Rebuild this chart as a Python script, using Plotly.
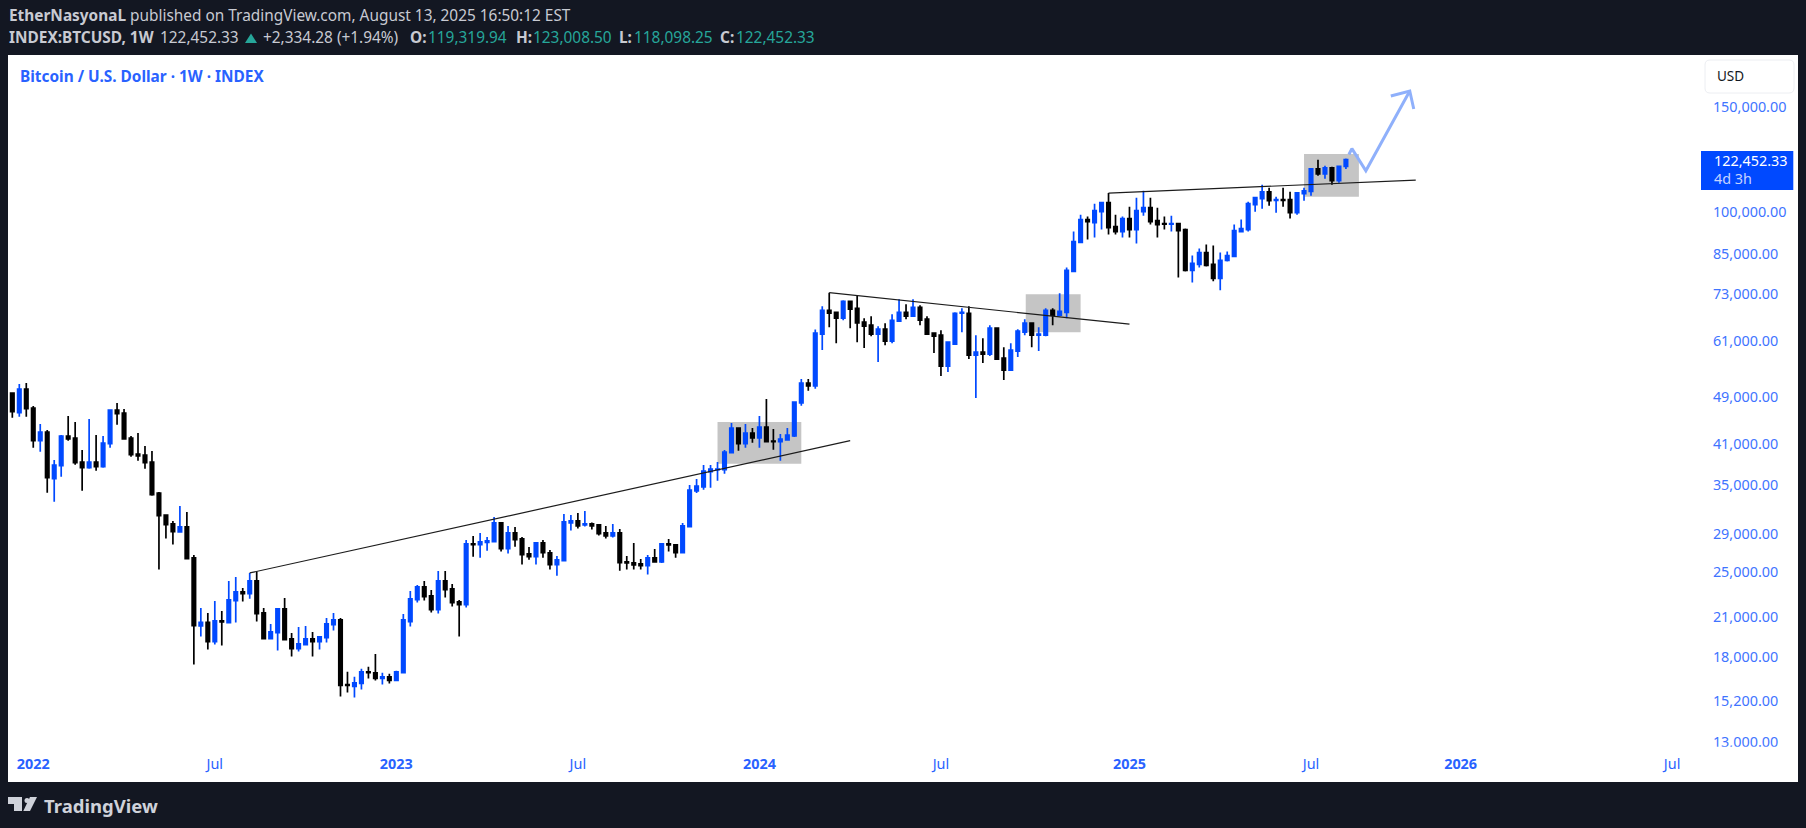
import pandas as pd
import plotly.graph_objects as go

W, H = 1806, 828
FONT = "Noto Sans"
BG = "#131722"
BLUE = "#2962ff"
TICK = "#3f74ff"
UP = "#0049ff"

first_bar = "2021-12-13"

opens = [49825,46190,50600,47030,41465,42875,35817,37660,42217,41894,
38183,37373,38183,37512,40988,46666,46130,41894,39390,39235,
38183,33895,31140,30082,29171,29737,26390,20310,20597,19120,
20705,20572,22390,23150,23000,24150,21350,19343,19795,21680,
19318,18612,18900,19318,19120,19418,20414,20784,16205,16080,
16267,17015,16948,16583,16690,16456,16970,20650,22475,23600,
22795,21627,24150,23418,22275,22047,27850,27780,28030,28103,
30200,27355,29058,28397,26797,26523,27960,26900,25720,26118,
30200,30432,29967,30082,29967,29058,28725,29058,25985,25885,
25785,25620,26390,25985,27850,27745,26935,29775,34155,34686,
36795,37080,37080,39590,43540,40988,42707,41894,43707,41412,
41305,41572,42217,47941,51783,51190,62500,68529,68000,66460,
70935,69060,65445,64695,62500,63705,60845,65700,68000,66970,
69325,66205,62740,62260,55275,60145,67745,67745,57660,58325,
57880,63955,57000,54433,58550,62980,65195,62260,62260,68529,
67230,68000,79595,88970,97175,96070,100205,103730,94600,92800,
97550,93520,100205,101760,96806,95700,95450,95700,93520,79902,
81760,85615,81760,77485,83028,84310,92800,93520,102935,105335,
108200,104660,104930,104930,99815,107375,108340,118190,115940,118640,
112869,119319.94]

highs = [49825,51585,51783,47390,44215,43205,38488,42380,45598,44556,
40000,45073,42380,42217,46666,47941,46845,42217,42707,40620,
39845,34020,31140,30432,32238,31500,26695,21766,21350,22360,
21515,24150,24525,23510,24907,25035,21766,20467,21680,22620,
19770,20231,20310,19846,19540,20945,21350,20945,17015,16690,
17212,17345,18234,16948,16884,17080,21270,23240,23780,24150,
23328,25100,25100,23874,22447,28285,28725,29058,28615,30904,
30316,29851,29737,28615,27530,28067,28285,27213,26590,31260,
31140,31380,31625,30238,29967,29851,30082,29510,26590,27960,
26286,26695,27320,27850,28397,27850,30200,34950,35770,37755,
37755,38183,40000,44385,43540,44215,43540,45598,48685,43370,
42545,43540,48125,52586,52586,63628,69590,73340,68000,71211,
70935,72590,66460,66970,64450,65195,67485,71485,70125,71485,
69860,66970,62980,63466,60845,68000,69060,69590,62260,61545,
64695,64200,59455,60375,63705,66205,65195,64200,69060,69060,
73150,80830,92800,99060,98305,103330,104130,107650,99060,98305,
102150,105740,108619,105740,101760,98305,98680,95700,93880,84635,
86940,88285,87950,85615,85945,95330,97175,104130,105740,111150,
109875,106145,109875,108200,107775,109875,118490,122340,119550,119100,
119400,123008.50]

lows = [45307,45482,45482,40360,39745,33937,32780,36094,41465,37803,
34200,37225,36938,37373,40360,44100,41625,38986,38390,37225,
33550,25228,28433,27780,29096,26320,17500,19492,18541,18900,
18826,20572,20572,22303,22560,20650,19343,19343,18470,19195,
18048,18400,18900,18048,18541,19047,19948,15473,15713,15414,
15895,16583,16456,16205,16267,16456,16970,20257,22218,22390,
21378,21297,22650,21878,19492,21795,26523,26420,27143,27995,
27040,26832,27565,25720,26218,25720,26420,25228,24650,26118,
29320,29547,29775,29433,28760,28433,28540,25130,25228,25228,
25228,24750,25985,25885,27040,26420,26935,29775,33895,34332,
34597,35540,36515,39590,39900,40360,41147,40360,41305,40050,
38390,41572,42055,47450,50275,50660,58776,64200,60375,65949,
63955,60610,59230,62020,56130,59915,60375,65700,66205,66970,
64695,62500,58105,53195,54015,60145,62980,56780,48877,55915,
57440,56780,52384,54225,57218,62260,59455,58550,62020,64695,
66970,66460,79595,88970,90000,90690,93520,91740,91740,90690,
90690,88630,98680,95330,90690,93520,92800,77780,79595,76300,
80830,81135,76600,73998,82710,84310,92445,92800,100205,101370,
102540,99815,102150,97550,99060,104529,106555,115055,113740,111150,
112000,118098.25]

closes = [46368,50600,46906,41465,42875,35955,37755,42217,41732,38085,
37373,38183,37512,41094,46666,46010,41732,39285,39085,38085,
33680,31061,30010,29208,29737,26320,20335,20597,19120,20705,
20625,22447,23150,23000,24150,21297,19343,19846,21680,19268,
18612,18950,19318,19120,19468,20467,20784,16142,16142,16309,
17015,16970,16583,16690,16456,17015,20784,22533,23600,22737,
21627,24150,23358,22218,22047,27850,27780,28067,28176,30200,
27355,29058,28320,26730,26523,27960,26935,25720,26185,30316,
30432,29851,30082,29851,28985,28725,29058,25920,25885,25685,
25620,26390,25985,27850,27745,26935,29851,34287,34820,36890,
37176,37176,39695,43540,40988,42707,41894,43707,41305,41305,
41732,42380,48125,51783,51190,62740,68529,67745,66460,70935,
68795,65280,64450,62500,63705,60845,65949,68000,66970,69325,
65949,62500,62020,55275,60610,67745,68000,57660,58325,57880,
63955,56780,54433,58776,63225,65195,62260,62500,68529,67230,
68255,79902,89310,97175,96435,100593,103730,94240,92800,97550,
93520,100593,101760,96435,95330,95450,95700,93160,79902,82075,
85615,81445,77485,83028,84635,93160,93880,103330,105740,108200,
104529,104930,104660,99815,107775,108619,118190,115940,118640,112869,
119320,122452.33]

trend_a_dates = ["2022-08-08", "2024-04-01"]
trend_a_prices = [24907, 41465]
trend_b_dates = ["2024-03-11", "2025-01-06"]
trend_b_prices = [73340, 64945]
trend_c_dates = ["2024-12-16", "2025-10-20"]
trend_c_prices = [107650, 113160]

box_a_dates = ["2023-11-20", "2024-02-12"]
box_a_prices = [37950, 44556]
box_b_dates = ["2024-09-24", "2024-11-18"]
box_b_prices = [62980, 72870]
box_c_dates = ["2025-06-30", "2025-08-24"]
box_c_prices = [106145, 125190]

path_dates = ["2025-08-14", "2025-08-17", "2025-08-31", "2025-10-14"]
path_prices = [124890, 127750, 117285, 159500]
head_dates = ["2025-09-25", "2025-10-14", "2025-10-18"]
head_prices = [156460, 159500, 148820]

price_ticks = [150000,100000,85000,73000,61000,49000,41000,35000,29000,25000,21000,18000,15200,13000]
date_ticks = ["2022-01-03","2022-07-04","2023-01-02","2023-07-03","2024-01-01","2024-07-01",
              "2025-01-06","2025-07-07","2025-12-04","2026-07-04"]
date_labels = ["<b>2022</b>","Jul","<b>2023</b>","Jul","<b>2024</b>","Jul","<b>2025</b>","Jul","<b>2026</b>","Jul"]

bars = pd.date_range(first_bar, periods=len(opens), freq="7D")

fx = lambda p: p / W
fy = lambda p: 1 - p / H

fig = go.Figure()

fig.add_trace(go.Candlestick(
    x=bars, open=opens, high=highs, low=lows, close=closes, whiskerwidth=0,
    increasing=dict(line=dict(color=UP, width=1.7), fillcolor=UP),
    decreasing=dict(line=dict(color="#000000", width=1.7), fillcolor="#000000"),
    showlegend=False))

for ds, ps in [(trend_a_dates, trend_a_prices), (trend_b_dates, trend_b_prices), (trend_c_dates, trend_c_prices)]:
    fig.add_trace(go.Scatter(x=ds, y=ps, mode="lines", line=dict(color="#1c1c1c", width=1.2),
                             hoverinfo="skip", showlegend=False))

for ds, ps in [(path_dates, path_prices), (head_dates, head_prices)]:
    fig.add_trace(go.Scatter(x=ds, y=ps, mode="lines", line=dict(color="#8fb0fb", width=3),
                             hoverinfo="skip", showlegend=False))


def poly(points):
    return "M " + " L ".join(f"{fx(a):.5f} {fy(b):.5f}" for a, b in points) + " Z"


def rounded(x0, y0, x1, y1, r):
    return ("M {} {} L {} {} Q {} {} {} {} L {} {} Q {} {} {} {} L {} {} Q {} {} {} {} L {} {} Q {} {} {} {} Z").format(
        fx(x0 + r), fy(y0), fx(x1 - r), fy(y0), fx(x1), fy(y0), fx(x1), fy(y0 + r),
        fx(x1), fy(y1 - r), fx(x1), fy(y1), fx(x1 - r), fy(y1),
        fx(x0 + r), fy(y1), fx(x0), fy(y1), fx(x0), fy(y1 - r),
        fx(x0), fy(y0 + r), fx(x0), fy(y0), fx(x0 + r), fy(y0))


LOGO = "#cfd2da"
TEAL = "#26a69a"
pp = dict(xref="paper", yref="paper")
shapes = [
    dict(type="rect", x0=fx(8), x1=fx(1798), y0=fy(55), y1=fy(782),
         fillcolor="#ffffff", line=dict(width=0), layer="below", **pp),
]
for ds, ps in [(box_a_dates, box_a_prices), (box_b_dates, box_b_prices), (box_c_dates, box_c_prices)]:
    shapes.append(dict(type="rect", xref="x", yref="y", x0=ds[0], x1=ds[1], y0=ps[0], y1=ps[1],
                       fillcolor="#c5c5c5", line=dict(width=0), layer="below"))
shapes += [
    dict(type="rect", x0=fx(1700), x1=fx(1792), y0=fy(746.7), y1=fy(753),
         fillcolor="#ffffff", line=dict(width=0), layer="above", **pp),
    dict(type="rect", x0=fx(1701), x1=fx(1793.3), y0=fy(151), y1=fy(190),
         fillcolor=UP, line=dict(width=0), layer="above", **pp),
    dict(type="path", path=rounded(1705, 60, 1794, 93, 5),
         fillcolor="#ffffff", line=dict(width=1, color="#eceef2"), layer="above", **pp),
    dict(type="path", path=poly([(8, 797), (22, 797), (22, 811), (14, 811), (14, 804), (8, 804)]),
         fillcolor=LOGO, line=dict(width=0), layer="above", **pp),
    dict(type="circle", x0=fx(24.5), x1=fx(29.5), y0=fy(798), y1=fy(803),
         fillcolor=LOGO, line=dict(width=0), layer="above", **pp),
    dict(type="path", path=poly([(30, 797), (37, 797), (30, 811), (23.3, 811)]),
         fillcolor=LOGO, line=dict(width=0), layer="above", **pp),
    dict(type="path", path=poly([(245, 43), (257, 43), (251, 33.5)]),
         fillcolor=TEAL, line=dict(width=0), layer="above", **pp),
]


def note(x, y, text, size, color, anchor="left"):
    return dict(xref="paper", yref="paper", x=fx(x), y=fy(y), text=text, showarrow=False,
                xanchor=anchor, yanchor="middle", xshift=0, borderpad=0,
                font=dict(family=FONT, size=size, color=color))


TXT = "#c8cad2"
HS = 15.4
annotations = [
    note(8, 16, "<b>EtherNasyonaL</b> published on TradingView.com, August 13, 2025 16:50:12 EST", HS, TXT),
    note(8, 38, "<b>INDEX:BTCUSD, 1W</b>", HS, TXT),
    note(159, 38, "122,452.33", HS, TXT),
    note(262, 38, "+2,334.28 (+1.94%)", HS, TXT),
    note(409, 38, "<b>O:</b>", HS, TXT),
    note(427, 38, "119,319.94", HS, TEAL),
    note(515, 38, "<b>H:</b>", HS, TXT),
    note(532, 38, "123,008.50", HS, TEAL),
    note(618, 38, "<b>L:</b>", HS, TXT),
    note(633, 38, "118,098.25", HS, TEAL),
    note(719, 38, "<b>C:</b>", HS, TXT),
    note(735, 38, "122,452.33", HS, TEAL),
    note(19, 76.5, "<b>Bitcoin / U.S. Dollar · 1W · INDEX</b>", 15.4, BLUE),
    note(1716, 76.5, "USD", 13.5, "#131722"),
    note(1712.5, 160.5, "122,452.33", 14.4, "#ffffff"),
    note(1712.5, 179, "4d 3h", 14.4, "#c5d3ff"),
    note(43, 805, "<b>TradingView</b>", 18.5, LOGO),
]

fig.update_layout(
    width=W, height=H, autosize=False,
    margin=dict(l=0, r=0, t=0, b=0, pad=0, autoexpand=False),
    paper_bgcolor=BG, plot_bgcolor="rgba(0,0,0,0)",
    shapes=shapes, annotations=annotations, showlegend=False,
    font=dict(family=FONT, size=14, color=BLUE),
    xaxis=dict(domain=[fx(9), fx(1706)], type="date", range=["2021-12-09 16:00", "2026-08-07"],
               rangeslider=dict(visible=False), showgrid=False, zeroline=False, showline=False,
               tickmode="array", tickvals=date_ticks, ticktext=date_labels,
               ticks="outside", ticklen=5, tickcolor="rgba(255,255,255,0)",
               tickfont=dict(family=FONT, size=14.4, color=BLUE), tickangle=0),
    yaxis=dict(domain=[1 - 746 / H, 1 - 55 / H], type="log", range=[4.10674, 5.26303], side="right",
               showgrid=False, zeroline=False, showline=False,
               tickmode="array", tickvals=price_ticks, ticktext=[f"{p:,.2f}" for p in price_ticks],
               ticks="outside", ticklen=3, tickcolor="rgba(255,255,255,0)",
               tickfont=dict(family=FONT, size=14.4, color=TICK)),
)

post = """
var s='margin:0;padding:0;overflow:hidden;width:1806px;height:828px;';
document.documentElement.style.cssText=s;
document.body.style.cssText=s;
var g=document.querySelector('.plotly-graph-div');
g.style.position='fixed';g.style.left='0';g.style.top='0';
"""
fig.write_html("out.html", post_script=post, config=dict(displayModeBar=False))
